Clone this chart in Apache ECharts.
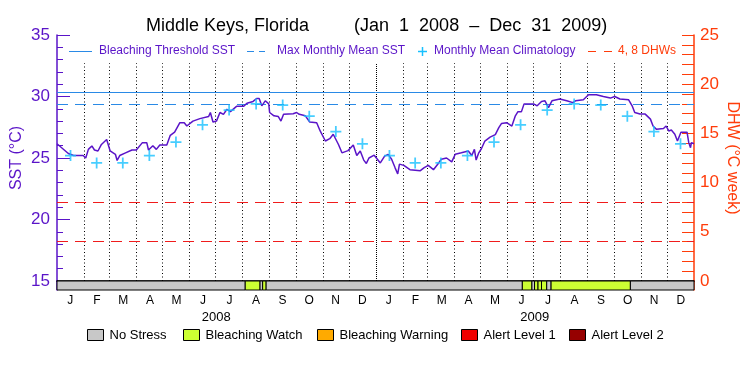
<!DOCTYPE html>
<html>
<head>
<meta charset="utf-8">
<script src="https://cdn.jsdelivr.net/npm/echarts@6/dist/echarts.min.js"></script>
<style>
html, body { margin: 0; padding: 0; background: #fff; }
#main { width: 750px; height: 375px; }
</style>
</head>
<body>
<div id="main"></div>
<script>
// day index 0 = Jan 1 2008, 731 = Jan 1 2010
var sstDays = [0, 13, 19, 30, 33, 36, 40, 43, 47, 51, 57, 61, 67, 69, 72, 78, 86, 91, 98, 103, 105, 110, 114, 118, 126, 130, 135, 141, 146, 149, 156, 164, 174, 176, 179, 183, 187, 191, 195, 199, 206, 214, 218, 225, 229, 232, 235, 239, 243, 244, 249, 254, 257, 260, 271, 275, 278, 285, 290, 298, 302, 308, 313, 317, 319, 323, 327, 334, 340, 344, 348, 352, 355, 358, 364, 371,
  376, 380, 384, 388, 391, 393, 398, 405, 417, 421, 426, 432, 438, 441, 447, 453, 457, 464, 472, 476, 479, 481, 484, 487, 491, 497, 503, 507, 510, 516, 522, 526, 529, 533, 536, 547, 551, 556, 560, 564, 568, 577, 585, 592, 595, 604, 610, 619, 627, 635, 640, 646, 656, 660, 663, 669, 675, 681, 684, 688, 696, 699, 702, 705, 709, 712, 716, 723, 725, 727, 728, 731];
var sstValues = [26.16, 25.37, 25.2, 25.2, 25.0, 25.7, 25.98, 25.65, 25.57, 26.1, 26.5, 25.57, 25.3, 24.8, 25.2, 25.4, 25.65, 25.65, 26.25, 26.25, 25.65, 26.0, 25.7, 26.05, 26.05, 26.84, 27.1, 27.87, 27.87, 27.6, 28.0, 28.2, 28.37, 28.7, 27.93, 28.0, 28.7, 28.55, 28.96, 28.77, 29.2, 29.2, 29.45, 29.6, 29.84, 29.84, 29.24, 29.65, 29.4, 28.7, 28.43, 28.37, 28.0, 28.55, 28.6, 28.7, 28.55, 28.43, 27.93, 27.87, 27.2, 26.38, 26.57, 26.93, 26.93, 26.1, 25.42, 25.6, 26.05, 25.2, 25.57, 24.83, 24.56, 25.0, 25.23, 24.6,
  25.15, 25.3, 24.9, 24.2, 23.7, 24.5, 24.4, 24.05, 23.97, 24.2, 24.4, 24.05, 24.6, 24.9, 25.0, 24.68, 25.3, 25.42, 25.57, 25.2, 25.7, 24.83, 25.42, 25.75, 26.38, 26.7, 26.9, 27.47, 27.8, 27.87, 27.6, 28.43, 28.77, 28.77, 29.4, 29.4, 29.24, 29.6, 29.65, 29.1, 29.65, 29.8, 29.65, 29.5, 29.65, 29.73, 30.14, 30.14, 30.0, 29.87, 30.0, 29.8, 29.73, 29.24, 28.7, 28.57, 28.57, 28.16, 27.6, 27.33, 27.4, 27.6, 27.2, 27.28, 26.93, 26.38, 27.1, 27.1, 26.25, 25.84, 26.25, 26.16];

var monthStarts = [0, 31, 60, 91, 121, 152, 182, 213, 244, 274, 305, 335, 366, 397, 425, 456, 486, 517, 547, 578, 609, 639, 670, 700, 731];
var monthLabels = ['J', 'F', 'M', 'A', 'M', 'J', 'J', 'A', 'S', 'O', 'N', 'D', 'J', 'F', 'M', 'A', 'M', 'J', 'J', 'A', 'S', 'O', 'N', 'D'];
var yearLabels = ['2008', '2009'];
var climatology = [25.2, 24.6, 24.6, 25.2, 26.3, 27.7, 28.9, 29.4, 29.3, 28.4, 27.15, 26.15,
  25.2, 24.6, 24.6, 25.2, 26.3, 27.7, 28.9, 29.4, 29.3, 28.4, 27.15, 26.15];
var mmm = 29.35;
var threshold = 30.35;
var dhwLevels = [4, 8];

// stress level bar: 0 no stress, 1 watch, 2 warning, 3 alert 1, 4 alert 2
var stressStart = [0, 216, 233, 236, 240, 534, 545, 548, 552, 556, 562, 567, 658];
var stressEnd = [216, 233, 236, 240, 534, 545, 548, 552, 556, 562, 567, 658, 731];
var stressLevel = [0, 1, 0, 1, 0, 1, 0, 1, 1, 1, 0, 1, 0];
var stressNames = ['No Stress', 'Bleaching Watch', 'Bleaching Warning', 'Alert Level 1', 'Alert Level 2'];

var stressColors = ['#c8c8c8', '#ccff33', '#ffaa00', '#f00000', '#960000'];
var purple = '#5a14c8';
var orange = '#ff3c0a';
var blue = '#2a8ae6';
var cyan = '#18c0ff';
var red = '#f01c1c';
var FONT = 'Liberation Sans';

var chart = echarts.init(document.getElementById('main'));

var sstData = sstDays.map(function (d, i) { return [d, sstValues[i]]; });
var climData = climatology.map(function (v, i) { return [(monthStarts[i] + monthStarts[i + 1]) / 2, v]; });
var stressData = stressStart.map(function (s, i) { return [s, stressEnd[i], stressLevel[i]]; });

// dotted month separators
var monthLines = [];
for (var i = 1; i < monthStarts.length - 1; i++) {
  monthLines.push([
    { coord: [monthStarts[i], 15], lineStyle: { type: i == 12 ? [1, 1] : [1, 2.5] } },
    { coord: [monthStarts[i], 32.7] }
  ]);
}

// legend graphics
var graphics = [
  { type: 'line', shape: { x1: 69, y1: 51.5, x2: 92, y2: 51.5 }, style: { stroke: blue, lineWidth: 1 } },
  { type: 'text', x: 99, y: 51, style: { text: 'Bleaching Threshold SST', fill: purple, font: '12px ' + FONT, verticalAlign: 'middle' } },
  { type: 'line', shape: { x1: 247, y1: 51.5, x2: 265, y2: 51.5 }, style: { stroke: blue, lineWidth: 1, lineDash: [7, 5] } },
  { type: 'text', x: 277, y: 51, style: { text: 'Max Monthly Mean SST', fill: purple, font: '12px ' + FONT, verticalAlign: 'middle' } },
  { type: 'line', shape: { x1: 418, y1: 51.5, x2: 427, y2: 51.5 }, style: { stroke: cyan, lineWidth: 1.5 } },
  { type: 'line', shape: { x1: 422.5, y1: 47, x2: 422.5, y2: 56 }, style: { stroke: cyan, lineWidth: 1.5 } },
  { type: 'text', x: 434, y: 51, style: { text: 'Monthly Mean Climatology', fill: purple, font: '12px ' + FONT, verticalAlign: 'middle' } },
  { type: 'line', shape: { x1: 588, y1: 51.5, x2: 612, y2: 51.5 }, style: { stroke: orange, lineWidth: 1, lineDash: [8, 8] } },
  { type: 'text', x: 618, y: 51, style: { text: '4, 8 DHWs', fill: orange, font: '12px ' + FONT, verticalAlign: 'middle' } }
];
var boxX = [87.5, 183.5, 317.5, 461.5, 569.5];
stressNames.forEach(function (name, i) {
  graphics.push({ type: 'rect', shape: { x: boxX[i], y: 329.5, width: 16, height: 11 }, style: { fill: stressColors[i], stroke: '#000', lineWidth: 1 } });
  graphics.push({ type: 'text', x: boxX[i] + 22, y: 335.5, style: { text: name, fill: '#000', font: '13px ' + FONT, verticalAlign: 'middle' } });
});

var option = {
  animation: false,
  backgroundColor: '#fff',
  title: {
    text: 'Middle Keys, Florida         (Jan  1  2008  \u2013  Dec  31  2009)',
    left: 141, top: 12,
    textStyle: { fontFamily: FONT, fontSize: 18, fontWeight: 'normal', color: '#000' }
  },
  graphic: graphics,
  grid: [
    { left: 57, right: 56, top: 35, height: 246, outerBoundsMode: 'none' },
    { left: 57, right: 56, top: 281, height: 9, outerBoundsMode: 'none' }
  ],
  xAxis: [
    { gridIndex: 0, type: 'value', min: 0, max: 731, position: 'top',
      axisLine: { lineStyle: { color: '#000', width: 1.5 } }, axisTick: { show: false }, axisLabel: { show: false }, splitLine: { show: false } },
    { gridIndex: 1, type: 'value', min: 0, max: 731, show: false },
    { gridIndex: 1, type: 'category', data: monthLabels, position: 'bottom', boundaryGap: true,
      axisLine: { show: false }, axisTick: { show: false },
      axisLabel: { color: '#000', fontFamily: FONT, fontSize: 12, margin: 5 } },
    { gridIndex: 1, type: 'category', data: yearLabels, position: 'bottom', offset: 16, boundaryGap: true,
      axisLine: { show: false }, axisTick: { show: false },
      axisLabel: { color: '#000', fontFamily: FONT, fontSize: 13, margin: 5 } }
  ],
  yAxis: [
    { gridIndex: 0, type: 'value', min: 15, max: 35, interval: 5, position: 'left',
      name: 'SST (\u00b0C)', nameLocation: 'middle', nameGap: 32, nameRotate: 90, nameMoveOverlap: false,
      nameTextStyle: { color: purple, fontFamily: FONT, fontSize: 16 },
      axisLine: { show: true, lineStyle: { color: purple, width: 1.5 } },
      axisTick: { inside: true, length: 13, lineStyle: { color: purple } },
      minorTick: { show: true, splitNumber: 5, length: 6, lineStyle: { color: purple } },
      axisLabel: { color: purple, fontFamily: FONT, fontSize: 17, margin: 7 },
      splitLine: { show: false } },
    { gridIndex: 0, type: 'value', min: 0, max: 25, interval: 5, position: 'right',
      name: 'DHW (\u00b0C week)', nameLocation: 'middle', nameGap: 30, nameRotate: -90, nameMoveOverlap: false,
      nameTextStyle: { color: orange, fontFamily: FONT, fontSize: 16 },
      axisLine: { show: true, lineStyle: { color: orange, width: 1.5 } },
      axisTick: { inside: true, length: 12, lineStyle: { color: orange } },
      minorTick: { show: true, splitNumber: 5, length: 12, lineStyle: { color: orange } },
      axisLabel: { color: orange, fontFamily: FONT, fontSize: 17, margin: 6 },
      splitLine: { show: false } },
    { gridIndex: 1, type: 'value', min: 0, max: 1, position: 'left',
      axisLine: { show: true, lineStyle: { color: purple, width: 1.5 } }, axisTick: { show: false }, axisLabel: { show: false }, splitLine: { show: false } },
    { gridIndex: 1, type: 'value', min: 0, max: 1, position: 'right',
      axisLine: { show: true, lineStyle: { color: orange, width: 1.5 } }, axisTick: { show: false }, axisLabel: { show: false }, splitLine: { show: false } }
  ],
  series: [
    { name: 'months', type: 'line', xAxisIndex: 0, yAxisIndex: 0, data: [], silent: true,
      markLine: { silent: true, symbol: ['none', 'none'], label: { show: false },
        lineStyle: { color: '#000', width: 1, type: [1, 2.5] }, data: monthLines } },
    { name: 'SST thresholds', type: 'line', xAxisIndex: 0, yAxisIndex: 0, data: [], silent: true,
      markLine: { silent: true, symbol: ['none', 'none'], label: { show: false },
        data: [
          { yAxis: threshold, lineStyle: { color: blue, width: 1, type: 'solid' } },
          { yAxis: mmm, lineStyle: { color: blue, width: 1, type: [11, 7] } }
        ] } },
    { name: 'DHW levels', type: 'line', xAxisIndex: 0, yAxisIndex: 1, data: [], silent: true,
      markLine: { silent: true, symbol: ['none', 'none'], label: { show: false },
        lineStyle: { color: red, width: 1, type: [11, 7] },
        data: dhwLevels.map(function (v) { return { yAxis: v }; }) } },
    { name: 'SST', type: 'line', xAxisIndex: 0, yAxisIndex: 0, data: sstData, showSymbol: false,
      lineStyle: { color: purple, width: 1.5 }, z: 5 },
    { name: 'Monthly Mean Climatology', type: 'scatter', xAxisIndex: 0, yAxisIndex: 0, data: climData,
      symbol: 'path://M4.2,0h1.6v10h-1.6z M0,4.2h10v1.6h-10z', symbolSize: 11,
      itemStyle: { color: cyan }, z: 6 },
    { name: 'Stress', type: 'custom', coordinateSystem: 'cartesian2d', xAxisIndex: 1, yAxisIndex: 2,
      data: stressData, encode: { x: [0, 1], y: 2 }, clip: false,
      renderItem: function (params, api) {
        var p0 = api.coord([api.value(0), 1]);
        var p1 = api.coord([api.value(1), 0]);
        return {
          type: 'rect',
          shape: { x: p0[0], y: p0[1], width: p1[0] - p0[0], height: p1[1] - p0[1] },
          style: { fill: stressColors[api.value(2)], stroke: '#000', lineWidth: 1 }
        };
      } }
  ]
};
chart.setOption(option);
</script>
</body>
</html>
